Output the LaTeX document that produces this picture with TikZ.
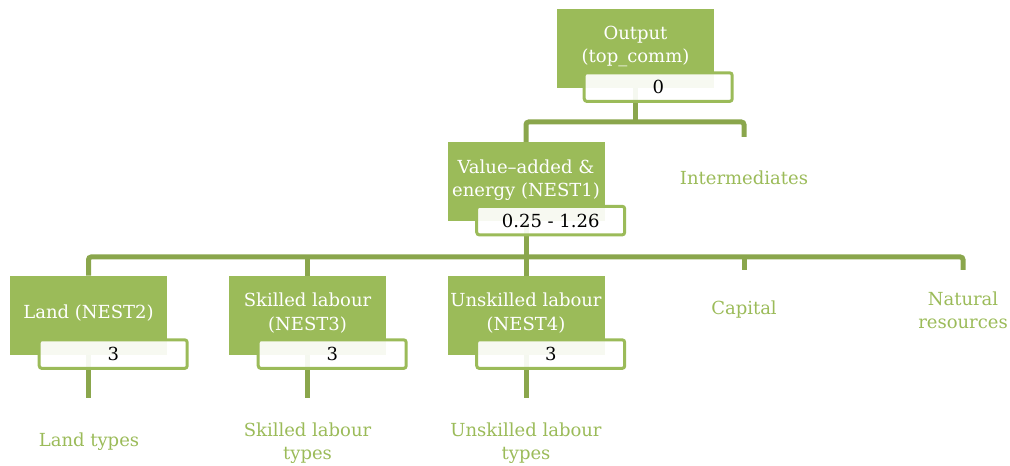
\documentclass[tikz,border=0pt]{standalone}
\usepackage{fontspec}
\setmainfont{DejaVu Serif}
\usetikzlibrary{positioning,backgrounds}
\definecolor{leaf}{HTML}{9BBB59}
\definecolor{stem}{HTML}{8AA64C}
\tikzset{
    greenbox/.style={fill=leaf, text=white, align=center, minimum width=117.75pt,
        minimum height=59.25pt, inner sep=0pt, font=\fontsize{13.5}{17.5}\selectfont},
    valbox/.style={draw=leaf, line width=2.25pt, rounded corners=2pt, fill=white,
        fill opacity=0.92, text opacity=1, minimum width=111pt, minimum height=21.5pt,
        inner sep=0pt, anchor=north west, font=\fontsize{13.5}{17.5}\selectfont},
    leaftext/.style={text=leaf, align=center, font=\fontsize{13.5}{17.5}\selectfont},
    conn/.style={draw=stem, line width=3.75pt, rounded corners=2pt},
}
\begin{document}
\begin{tikzpicture}[x=0.75pt, y=-0.75pt]
    \useasboundingbox (0,0) rectangle (1010,466);
    % top level
    \node[greenbox] (out) at (635.5,48.5) {Output\\(top\_comm)\\[-11.5pt]};
    \node[valbox] (outv) at ([xshift=19.5pt,yshift=12.75pt]out.south west) {0};
    \node[leaftext] (inter) at (744,178) {Intermediates};
    % nest 1
    \node[greenbox] (va) at (526,182) {Value--added \&\\energy (NEST1)\\[-11.5pt]};
    \node[valbox] (vav) at ([xshift=21pt,yshift=12.75pt]va.south west) {0.25 - 1.26};
    % nest 2 to 4
    \node[greenbox] (land) at (88.5,315.5) {Land (NEST2)\\[-11.5pt]};
    \node[valbox] (landv) at ([xshift=21pt,yshift=12.75pt]land.south west) {3};
    \node[greenbox] (skl) at (307.5,315.5) {Skilled labour\\(NEST3)\\[-11.5pt]};
    \node[valbox] (sklv) at ([xshift=21pt,yshift=12.75pt]skl.south west) {3};
    \node[greenbox] (unsk) at (526,315.5) {Unskilled labour\\(NEST4)\\[-11.5pt]};
    \node[valbox] (unskv) at ([xshift=21pt,yshift=12.75pt]unsk.south west) {3};
    \node[leaftext] (cap) at (744,310) {Capital};
    \node[leaftext] (nr) at (963,310) {Natural\\resources};
    % leaves
    \node[leaftext] (landt) at (89,442) {Land types};
    \node[leaftext] (sklt) at (307.5,443) {Skilled labour\\types};
    \node[leaftext] (unskt) at (526,443) {Unskilled labour\\types};
    \coordinate (b1) at (635.5,122);
    \coordinate (ie) at (744,137);
    \coordinate (b2) at (526,257);
    \coordinate (cape) at (744,270);
    \coordinate (nre) at (963,270);
    \begin{scope}[on background layer]
        \draw[conn] (out.south) -- (b1);
        \draw[conn] (va.north) |- (ie |- b1) -- (ie);
        \draw[conn] (va.south) -- (unsk.north);
        \draw[conn] (land.north) |- (nre |- b2) -- (nre);
        \draw[conn] (skl.north) -- (skl.north |- b2);
        \draw[conn] (cape) -- (cape |- b2);
        \draw[conn] (land.south) -- ++(0,43);
        \draw[conn] (skl.south) -- ++(0,43);
        \draw[conn] (unsk.south) -- ++(0,43);
    \end{scope}
\end{tikzpicture}
\end{document}
